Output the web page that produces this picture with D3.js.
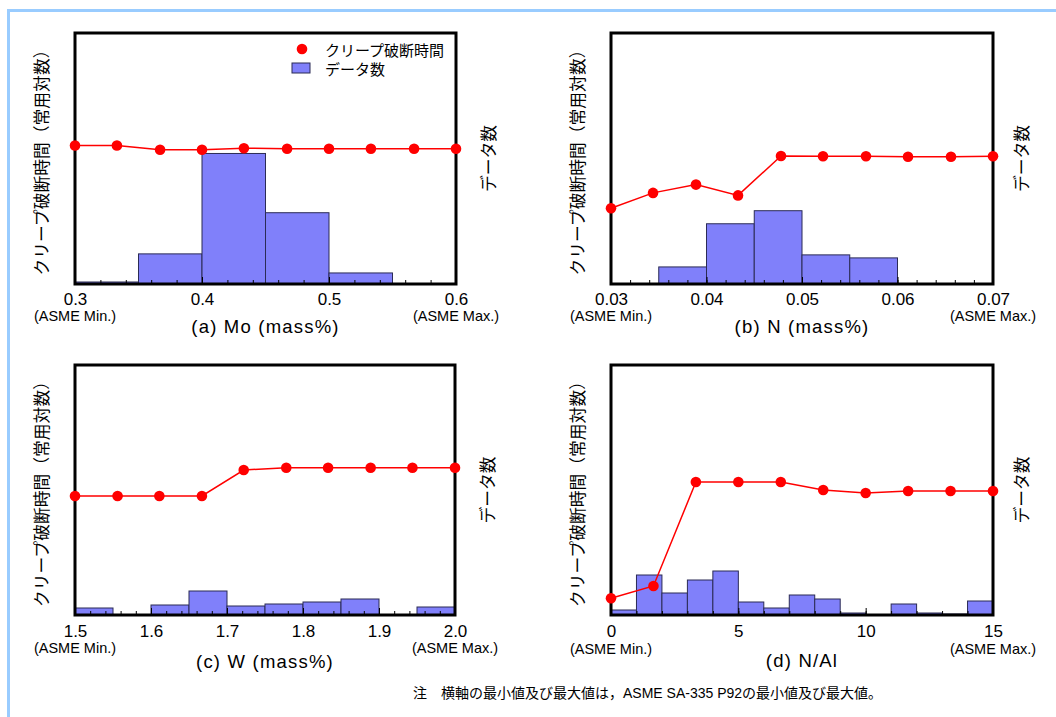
<!DOCTYPE html>
<html>
<head>
<meta charset="utf-8">
<script src="https://cdn.jsdelivr.net/npm/d3@7"></script>
<style>
  html, body { margin: 0; padding: 0; background: #fff; }
  svg { display: block; }
</style>
</head>
<body>
<svg id="chart" width="1056" height="717"></svg>
<script>
// creep rupture time (relative, log scale, 0-100 of axis) and data counts per bin

// (a) Mo
const moX = [0.300, 0.333, 0.367, 0.400, 0.433, 0.467, 0.500, 0.533, 0.567, 0.600];
const moCreep = [55.2, 55.2, 53.5, 53.5, 54.1, 53.9, 53.9, 53.9, 53.9, 53.9];
const moBins = [0.30, 0.35, 0.40, 0.45, 0.50, 0.55];
const moCount = [2, 30, 130, 71, 11, 0];

// (b) N
const nX = [0.0300, 0.0344, 0.0389, 0.0433, 0.0478, 0.0522, 0.0567, 0.0611, 0.0656, 0.0700];
const nCreep = [30.2, 36.3, 39.6, 35.3, 51.0, 50.9, 50.9, 50.7, 50.7, 50.9];
const nBins = [0.035, 0.040, 0.045, 0.050, 0.055];
const nCount = [17, 60, 73, 29, 26];

// (c) W
const wX = [1.500, 1.556, 1.611, 1.667, 1.722, 1.778, 1.833, 1.889, 1.944, 2.000];
const wCreep = [47.6, 47.6, 47.6, 47.6, 58.0, 58.9, 58.9, 58.9, 58.9, 58.9];
const wBins = [1.50, 1.55, 1.60, 1.65, 1.70, 1.75, 1.80, 1.85, 1.90, 1.95];
const wCount = [7, 0, 10, 24, 9, 11, 13, 16, 0, 8];

// (d) N/Al
const naX = [0, 1.667, 3.333, 5, 6.667, 8.333, 10, 11.667, 13.333, 15];
const naCreep = [6.7, 11.6, 53.2, 53.2, 53.2, 50.0, 48.8, 49.6, 49.6, 49.6];
const naBins = [0, 1, 2, 3, 4, 5, 6, 7, 8, 9, 10, 11, 12, 13, 14];
const naCount = [5, 40, 22, 35, 44, 13, 7, 20, 16, 2, 0, 11, 2, 1, 14];

const moTicks = [0.3, 0.4, 0.5, 0.6];
const nTicks = [0.03, 0.04, 0.05, 0.06, 0.07];
const wTicks = [1.5, 1.6, 1.7, 1.8, 1.9, 2.0];
const naTicks = [0, 5, 10, 15];

const titles = ["(a) Mo (mass%)", "(b) N (mass%)", "(c) W (mass%)", "(d) N/Al"];
const leftLabel = "クリープ破断時間（常用対数）";
const rightLabel = "データ数";
const legendLabels = ["クリープ破断時間", "データ数"];
const note = "注　横軸の最小値及び最大値は，ASME SA-335 P92の最小値及び最大値。";

const FONT = '"Liberation Sans", "Noto Sans CJK JP", sans-serif';
const JP = '"Noto Sans CJK JP", sans-serif';
const RED = "#ff0000";
const BAR = "#8080fa";
const BAR_STROKE = "#2b2b55";

const panels = [
  { x: moX, creep: moCreep, bins: moBins, count: moCount, bw: 0.05, dom: [0.3, 0.6], ticks: moTicks, fmt: ".1f", minor: 0.02,
    box: { x: 75, y: 33, w: 381, h: 251 }, rOff: 32, lab: [21, 37, 49] },
  { x: nX, creep: nCreep, bins: nBins, count: nCount, bw: 0.005, dom: [0.03, 0.07], ticks: nTicks, fmt: ".2f", minor: 0.002,
    box: { x: 611, y: 33, w: 382, h: 251 }, rOff: 28, lab: [21, 37, 49] },
  { x: wX, creep: wCreep, bins: wBins, count: wCount, bw: 0.05, dom: [1.5, 2.0], ticks: wTicks, fmt: ".1f", minor: 0.02,
    box: { x: 75, y: 365, w: 380, h: 250 }, rOff: 32, lab: [22, 38, 53] },
  { x: naX, creep: naCreep, bins: naBins, count: naCount, bw: 1, dom: [0, 15], ticks: naTicks, fmt: "d", minor: 1,
    box: { x: 611, y: 365, w: 382, h: 250 }, rOff: 28, lab: [22, 39, 52] }
];

const svg = d3.select("#chart");

// light blue page frame (top and left)
svg.append("line").attr("x1", 8.5).attr("x2", 1056).attr("y1", 10.5).attr("y2", 10.5)
  .attr("stroke", "#99ccff").attr("stroke-width", 3);
svg.append("line").attr("x1", 8.5).attr("x2", 8.5).attr("y1", 9).attr("y2", 717)
  .attr("stroke", "#99ccff").attr("stroke-width", 3);

panels.forEach((p, i) => {
  const b = p.box;
  const g = svg.append("g").attr("transform", `translate(${b.x},${b.y})`);

  const x = d3.scaleLinear().domain(p.dom).range([0, b.w]);
  const yc = d3.scaleLinear().domain([0, 100]).range([b.h, 0]);
  const yn = d3.scaleLinear().domain([0, 250]).range([b.h, 0]);

  // histogram bars
  g.append("g").selectAll("rect")
    .data(p.bins.map((s, k) => ({ s, n: p.count[k] })).filter(d => d.n > 0))
    .join("rect")
    .attr("x", d => x(d.s))
    .attr("width", d => x(d.s + p.bw) - x(d.s))
    .attr("y", d => yn(d.n))
    .attr("height", d => b.h - yn(d.n))
    .attr("fill", BAR)
    .attr("stroke", BAR_STROKE)
    .attr("stroke-width", 1);

  // minor + major ticks pointing inward
  const nMinor = Math.round((p.dom[1] - p.dom[0]) / p.minor);
  const minors = d3.range(nMinor + 1).map(k => p.dom[0] + k * p.minor);
  const minorAxis = g.append("g").attr("transform", `translate(0,${b.h})`)
    .call(d3.axisBottom(x).tickValues(minors).tickSizeInner(-4).tickSizeOuter(0).tickFormat(""));
  minorAxis.select(".domain").remove();

  const majorAxis = g.append("g").attr("transform", `translate(0,${b.h})`)
    .call(d3.axisBottom(x).tickValues(p.ticks).tickSizeInner(-7).tickSizeOuter(0)
      .tickPadding(p.lab[0] - 12).tickFormat(d3.format(p.fmt)));
  majorAxis.select(".domain").remove();
  majorAxis.selectAll("text")
    .attr("font-family", FONT).attr("font-size", 17).attr("fill", "#000");

  // frame
  g.append("rect").attr("width", b.w).attr("height", b.h)
    .attr("fill", "none").attr("stroke", "#000").attr("stroke-width", 3);

  // creep line + dots
  const line = d3.line().x(d => x(d[0])).y(d => yc(d[1]));
  const pts = p.x.map((v, k) => [v, p.creep[k]]);
  g.append("path").datum(pts).attr("d", line)
    .attr("fill", "none").attr("stroke", RED).attr("stroke-width", 1.5);
  g.append("g").selectAll("circle").data(pts).join("circle")
    .attr("cx", d => x(d[0])).attr("cy", d => yc(d[1])).attr("r", 5.3)
    .attr("fill", RED);

  // ASME min / max notes
  g.append("text").attr("x", 0).attr("y", b.h + p.lab[1])
    .attr("text-anchor", "middle").attr("font-family", FONT).attr("font-size", 14.5)
    .text("(ASME Min.)");
  g.append("text").attr("x", b.w).attr("y", b.h + p.lab[1])
    .attr("text-anchor", "middle").attr("font-family", FONT).attr("font-size", 14.5)
    .text("(ASME Max.)");

  // panel title
  g.append("text").attr("x", b.w / 2).attr("y", b.h + p.lab[2])
    .attr("text-anchor", "middle").attr("font-family", FONT).attr("font-size", 18.5)
    .attr("letter-spacing", 1.2)
    .text(titles[i]);

  // side labels
  g.append("text")
    .attr("transform", `translate(-34,${b.h / 2}) rotate(-90)`)
    .attr("text-anchor", "middle").attr("dominant-baseline", "central")
    .attr("font-family", JP).attr("font-size", 16.8)
    .text(leftLabel);
  g.append("text")
    .attr("transform", `translate(${b.w + p.rOff},${b.h / 2}) rotate(-90)`)
    .attr("text-anchor", "middle").attr("dominant-baseline", "central")
    .attr("font-family", JP).attr("font-size", 16.8)
    .text(rightLabel);

  // legend in the first panel
  if (i === 0) {
    const lg = g.append("g").attr("transform", `translate(${302 - b.x},${49 - b.y})`);
    lg.append("circle").attr("r", 5.3).attr("fill", RED);
    lg.append("rect").attr("x", -10).attr("y", 14).attr("width", 18).attr("height", 10)
      .attr("fill", BAR).attr("stroke", BAR_STROKE);
    lg.append("text").attr("x", 23).attr("y", 0).attr("dominant-baseline", "central")
      .attr("font-family", JP).attr("font-size", 15).text(legendLabels[0]);
    lg.append("text").attr("x", 23).attr("y", 19).attr("dominant-baseline", "central")
      .attr("font-family", JP).attr("font-size", 15).text(legendLabels[1]);
  }
});

// footnote
svg.append("text").attr("x", 413).attr("y", 698)
  .attr("font-family", FONT).attr("font-size", 14)
  .text(note);
</script>
</body>
</html>
